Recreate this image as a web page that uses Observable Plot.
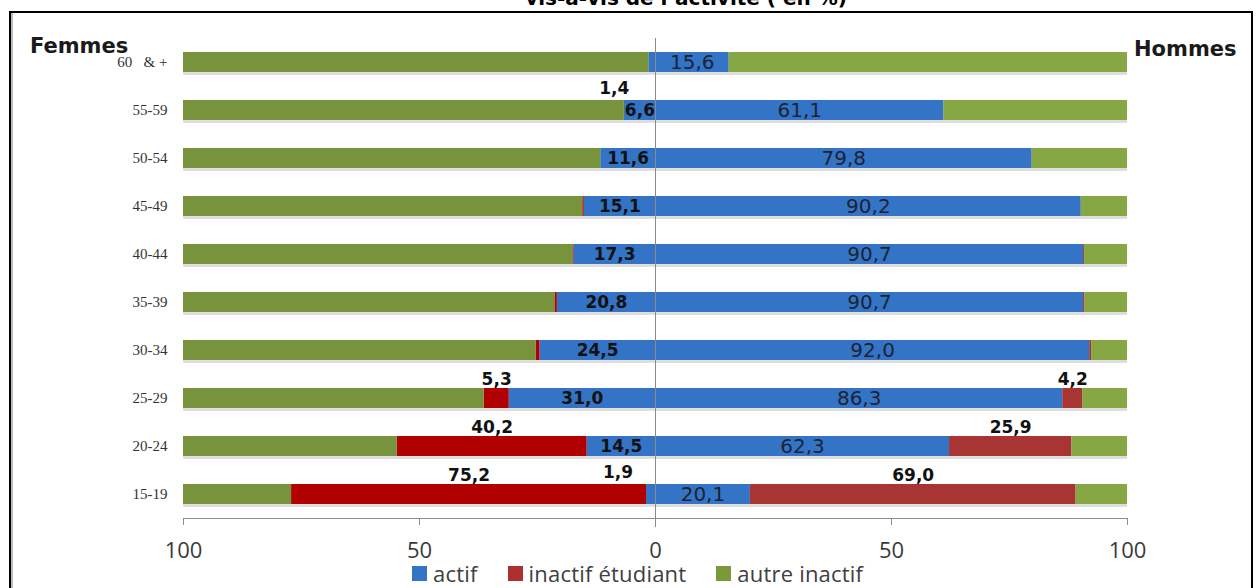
<!DOCTYPE html>
<html>
<head>
<meta charset="utf-8">
<script src="https://cdn.jsdelivr.net/npm/d3@7"></script>
<script src="https://cdn.jsdelivr.net/npm/@observablehq/plot@0.6"></script>
<style>
  html, body { margin: 0; padding: 0; background: #fff; }
  #page { position: relative; width: 1258px; height: 588px; overflow: hidden; background: #fff; }
  #frame { position: absolute; left: 9px; top: 11px; width: 1240px; height: 640px; border: 2px solid #000; box-shadow: inset 2px 0 0 #bbb; }
  #title { position: absolute; top: -12px; left: 686px; transform: translateX(-50%); white-space: nowrap;
           font: bold 20px "DejaVu Sans", sans-serif; color: #000; line-height: 20px; }
  #chart { position: absolute; left: 0; top: 0; }
  .side { position: absolute; font: bold 21px "DejaVu Sans", sans-serif; color: #1a1a1a; }
  #legend { position: absolute; top: 558px; left: 412px; display: flex; gap: 30px; align-items: center;
            font: 22px "Open Sans", sans-serif; color: #404040; letter-spacing: 0.2px; }
  #legend .item { display: flex; align-items: center; }
  #legend .sw { width: 15px; height: 15px; margin-right: 6px; }
</style>
</head>
<body>
<div id="page">
  <div id="frame"></div>
  <div id="title">vis-à-vis de l’activité ( en %)</div>
  <div id="chart"></div>
  <div class="side" id="femmes" style="left:30px; top:34px;">Femmes</div>
  <div class="side" id="hommes" style="left:1134px; top:37px;">Hommes</div>
  <div id="legend"></div>
</div>
<script>
// ---------- data ----------
const ages = ["60   & +", "55-59", "50-54", "45-49", "40-44", "35-39", "30-34", "25-29", "20-24", "15-19"];
const series = ["actif", "inactif étudiant", "autre inactif"];
const femmesActif    = [1.4, 6.6, 11.6, 15.1, 17.3, 20.8, 24.5, 31.0, 14.5, 1.9];
const femmesEtudiant = [0.0, 0.0, 0.0, 0.3, 0.2, 0.5, 0.8, 5.3, 40.2, 75.2];
const femmesAutre    = [98.6, 93.4, 88.4, 84.6, 82.5, 78.7, 74.7, 63.7, 45.3, 22.9];
const hommesActif    = [15.6, 61.1, 79.8, 90.2, 90.7, 90.7, 92.0, 86.3, 62.3, 20.1];
const hommesEtudiant = [0.0, 0.0, 0.0, 0.0, 0.2, 0.3, 0.4, 4.2, 25.9, 69.0];
const hommesAutre    = [84.4, 38.9, 20.2, 9.8, 9.1, 9.0, 7.6, 9.5, 11.8, 10.9];
const xTicks = [-100, -50, 0, 50, 100];

// ---------- colours ----------
const colorKeys = ["F|actif", "F|inactif étudiant", "F|autre inactif", "H|actif", "H|inactif étudiant", "H|autre inactif"];
const colorRange = ["#3474c7", "#b00000", "#77933c", "#3474c7", "#a83434", "#86a743"];
const legendColors = ["#3474c7", "#ad3030", "#7a9a3a"];

// ---------- build tables ----------
const sides = [
  {side: "F", sign: -1, vals: [femmesActif, femmesEtudiant, femmesAutre]},
  {side: "H", sign: 1, vals: [hommesActif, hommesEtudiant, hommesAutre]}
];
const rows = [];
const labels = [];
const shadows = [];
ages.forEach((age, i) => {
  const ext = {};
  sides.forEach(({side, sign, vals}) => {
    let cum = 0;
    series.forEach((s, k) => {
      const v = vals[k][i];
      rows.push({age, side, series: s, key: side + "|" + s, x: sign * v});
      const show = k === 0 || (k === 1 && v >= 1);
      if (show) {
        const small = v < 3;
        const above = k === 1 || small;
        labels.push({
          age, side, series: s, value: v,
          x: sign * (cum + v / 2),
          text: v.toFixed(1).replace(".", ","),
          above, small, top: i === 0
        });
      }
      cum += v;
    });
    ext[side] = sign * cum;
  });
  shadows.push({age, x1: ext.F, x2: ext.H});
});

const inside = labels.filter(d => !d.above);
const aboveLabels = labels.filter(d => d.above && !d.top);
const belowLabels = labels.filter(d => d.above && d.top);

const chart = Plot.plot({
  width: 1258,
  height: 565,
  marginLeft: 183,
  marginRight: 131,
  marginTop: 38,
  marginBottom: 47,
  x: {domain: [-100, 100]},
  y: {domain: ages, range: [52, 505], paddingInner: 0.58, paddingOuter: 0, label: null},
  color: {domain: colorKeys, range: colorRange},
  marks: [
    Plot.frame({anchor: "bottom", stroke: "#8c8c8c"}),
    Plot.axisX({ticks: xTicks, tickFormat: d => Math.abs(d), tickSize: 7, tickPadding: 17,
      fontSize: 22, fontFamily: "Open Sans", fill: "#3a3a3a", stroke: "#8c8c8c", label: null}),
    Plot.axisY({tickSize: 0, tickPadding: 16, fontSize: 15, fontFamily: "Liberation Serif",
      fill: "#333", tickFormat: d => d.replace(/ /g, "\u00a0"), label: null}),
    Plot.barX(shadows, {y: "age", x1: "x1", x2: "x2", fill: "#000", fillOpacity: 0.13, dy: 3}),
    Plot.barX(rows, Plot.stackX({y: "age", x: "x", fill: "key", z: "key"})),
    Plot.ruleX([0], {stroke: "#8a8a8a", strokeWidth: 1, insetBottom: -9}),
    Plot.text(inside.filter(d => d.side === "F"), {x: "x", y: "age", text: "text",
      fontFamily: "DejaVu Sans", fontWeight: "bold", fontSize: 17, fill: "#111"}),
    Plot.text(inside.filter(d => d.side === "H"), {x: "x", y: "age", text: "text",
      fontFamily: "DejaVu Sans", fontSize: 20, fill: "#1c2333"}),
    Plot.text(aboveLabels.filter(d => !d.small), {x: "x", y: "age", text: "text", dy: -19,
      fontFamily: "DejaVu Sans", fontWeight: "bold", fontSize: 17, fill: "#111"}),
    Plot.text(aboveLabels.filter(d => d.small), {x: "x", y: "age", text: "text", dy: -22, dx: -33,
      fontFamily: "DejaVu Sans", fontWeight: "bold", fontSize: 17, fill: "#111"}),
    Plot.text(belowLabels, {x: "x", y: "age", text: "text", dy: 26, dx: -38,
      fontFamily: "DejaVu Sans", fontWeight: "bold", fontSize: 17, fill: "#111"})
  ]
});
document.getElementById("chart").appendChild(chart);

// ---------- legend ----------
const legend = document.getElementById("legend");
series.forEach((s, k) => {
  const item = document.createElement("div");
  item.className = "item";
  const sw = document.createElement("span");
  sw.className = "sw";
  sw.style.background = legendColors[k];
  const t = document.createElement("span");
  t.textContent = s;
  item.appendChild(sw);
  item.appendChild(t);
  legend.appendChild(item);
});
</script>
</body>
</html>
